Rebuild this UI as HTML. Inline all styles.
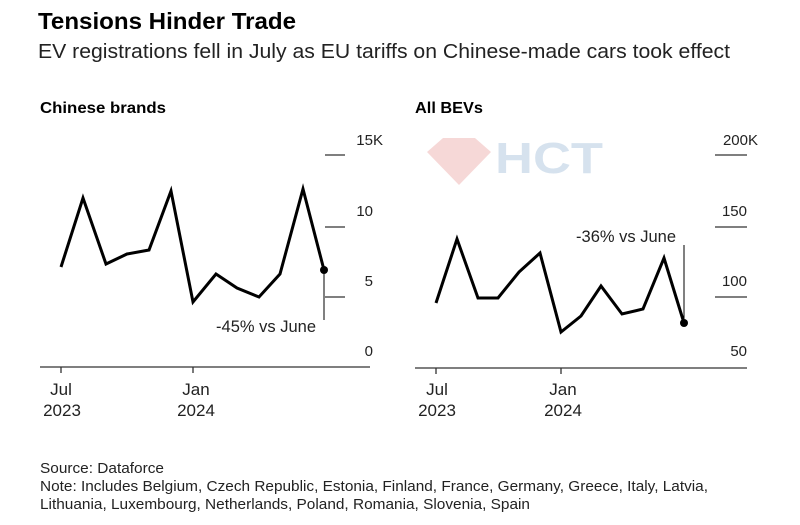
<!DOCTYPE html>
<html><head><meta charset="utf-8"><style>
body{margin:0;background:#fff;width:800px;height:520px;overflow:hidden;font-family:"Liberation Sans",sans-serif;}
</style></head><body>
<svg width="800" height="520" viewBox="0 0 800 520" xmlns="http://www.w3.org/2000/svg" font-family="Liberation Sans, sans-serif">
<text x="38" y="29" font-size="23" font-weight="bold" fill="#000" textLength="258" lengthAdjust="spacingAndGlyphs">Tensions Hinder Trade</text>
<text x="38" y="58" font-size="20" fill="#222" textLength="692" lengthAdjust="spacingAndGlyphs">EV registrations fell in July as EU tariffs on Chinese-made cars took effect</text>
<text x="40" y="113" font-size="16" font-weight="bold" fill="#000" textLength="126" lengthAdjust="spacingAndGlyphs">Chinese brands</text>
<text x="415" y="113" font-size="16" font-weight="bold" fill="#000" textLength="68" lengthAdjust="spacingAndGlyphs">All BEVs</text>

<!-- watermark -->
<g opacity="0.22">
<polygon points="427,152 443,138 475,138 491,152 459,185" fill="#d9534f"/>
<text x="495" y="173" font-size="44" font-weight="bold" fill="#4a7fb5" textLength="108" lengthAdjust="spacingAndGlyphs">HCT</text>
</g>

<g font-size="15" fill="#222">
<g stroke="#333" stroke-width="1.3">
<line x1="325" y1="155" x2="345" y2="155"/><line x1="325" y1="227" x2="345" y2="227"/><line x1="325" y1="297" x2="345" y2="297"/>
<line x1="40" y1="367" x2="370" y2="367"/><line x1="61" y1="367" x2="61" y2="373"/><line x1="193" y1="367" x2="193" y2="373"/>
</g>
<text x="383" y="145" text-anchor="end">15K</text>
<text x="373" y="216" text-anchor="end">10</text>
<text x="373" y="286" text-anchor="end">5</text>
<text x="373" y="356" text-anchor="end">0</text>
<g font-size="17">
<text x="61" y="395" text-anchor="middle">Jul</text><text x="62" y="416" text-anchor="middle">2023</text>
<text x="196" y="395" text-anchor="middle">Jan</text><text x="196" y="416" text-anchor="middle">2024</text>
</g>
<polyline fill="none" stroke="#000" stroke-width="3" points="61,267 83,198 106,264 127,254 149,250 171,191 193,302 216,274 237,288 259,297 280,274 303,189 324,270"/>
<circle cx="324" cy="270" r="4" fill="#000"/>
<line x1="324" y1="270" x2="324" y2="320" stroke="#000" stroke-width="1"/>
<text x="316" y="332" text-anchor="end" font-size="16.5">-45% vs June</text>

<g stroke="#333" stroke-width="1.3">
<line x1="715" y1="155" x2="747" y2="155"/><line x1="715" y1="227" x2="747" y2="227"/><line x1="715" y1="297" x2="747" y2="297"/>
<line x1="415" y1="368" x2="747" y2="368"/><line x1="436" y1="368" x2="436" y2="374"/><line x1="561" y1="368" x2="561" y2="374"/>
</g>
<text x="758" y="145" text-anchor="end">200K</text>
<text x="747" y="216" text-anchor="end">150</text>
<text x="747" y="286" text-anchor="end">100</text>
<text x="747" y="356" text-anchor="end">50</text>
<g font-size="17">
<text x="437" y="395" text-anchor="middle">Jul</text><text x="437" y="416" text-anchor="middle">2023</text>
<text x="563" y="395" text-anchor="middle">Jan</text><text x="563" y="416" text-anchor="middle">2024</text>
</g>
<polyline fill="none" stroke="#000" stroke-width="3" points="436,303 457,239 478,298 498,298 519,272 540,253 561,332 581,316 601,286 622,314 643,309 664,258 684,323"/>
<circle cx="684" cy="323" r="4" fill="#000"/>
<line x1="684" y1="245" x2="684" y2="323" stroke="#000" stroke-width="1"/>
<text x="676" y="242" text-anchor="end" font-size="16.5">-36% vs June</text>
</g>

<g font-size="15" fill="#222">
<text x="40" y="473" textLength="124" lengthAdjust="spacingAndGlyphs">Source: Dataforce</text>
<text x="40" y="491" textLength="668" lengthAdjust="spacingAndGlyphs">Note: Includes Belgium, Czech Republic, Estonia, Finland, France, Germany, Greece, Italy, Latvia,</text>
<text x="40" y="509" textLength="490" lengthAdjust="spacingAndGlyphs">Lithuania, Luxembourg, Netherlands, Poland, Romania, Slovenia, Spain</text>
</g>
</svg>
</body></html>
